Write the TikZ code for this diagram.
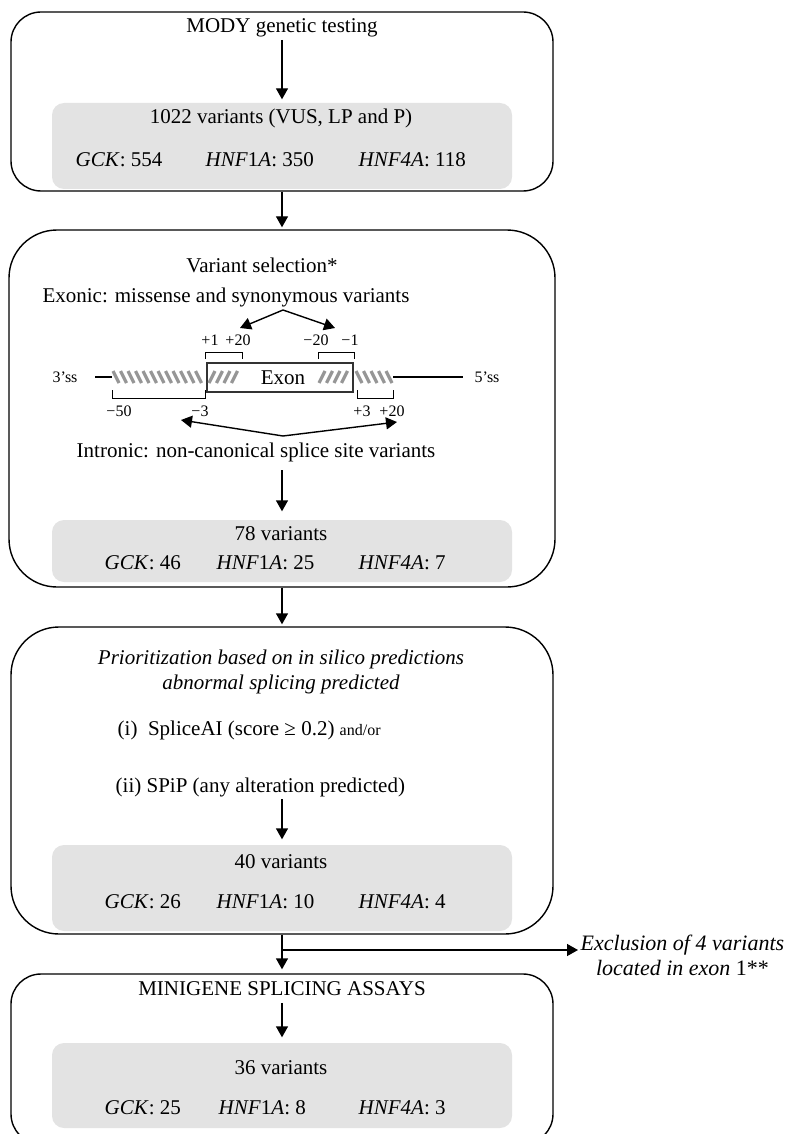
\documentclass[tikz,border=0pt]{standalone}
\usepackage{fontspec}
\setmainfont{Liberation Serif}
\usepackage{xcolor}
\usepackage{tikz}
\usetikzlibrary{arrows.meta, positioning, fit}

\definecolor{boxgrey}{RGB}{227,227,227}
\definecolor{hatchgrey}{RGB}{150,150,150}

\begin{document}
\begin{tikzpicture}[
  x=0.5pt, y=-0.5pt,
  stage/.style={draw=black, line width=0.7pt, inner sep=0pt, rounded corners=15pt},
  greybox/.style={fill=boxgrey, inner sep=0pt, rounded corners=6pt},
  txt/.style={font=\fontsize{10.5}{12.5}\selectfont, inner sep=1pt, align=center},
  gene/.style={txt, anchor=west},
  tick/.style={font=\fontsize{8}{9}\selectfont, inner sep=0.5pt},
  hatch/.style={draw=hatchgrey, line width=1.6pt},
  brack/.style={draw=black, line width=0.5pt},
  >={Triangle[length=5.5pt, width=6pt]},
  every path/.style={line width=0.7pt}
]
\useasboundingbox (0,0) rectangle (785,1134);

% ── Outer stages ──
\node[stage, fit={(11,12) (553,191)}] (stage1) {};
\node[stage, rounded corners=24pt, fit={(9,230) (555,587)}] (stage2) {};
\node[stage, rounded corners=24pt, fit={(11,627) (553,934)}] (stage3) {};
\node[stage, fit={(11,974) (553,1144)}] (stage4) {};

% ── Grey result boxes ──
\node[greybox, fit={(52,103) (512,189)}] (grey1) {};
\node[greybox, fit={(52,520) (512,582)}] (grey2) {};
\node[greybox, fit={(52,845) (512,931)}] (grey3) {};
\node[greybox, fit={(52,1043) (512,1128)}] (grey4) {};

% ── Stage 1 ──
\node[txt] (mody) at (282,28) {MODY genetic testing};
\node[txt] (count1) at (281,118) {1022 variants (VUS, LP and P)};
\node[gene] (gck1) at (73,160) {\textit{GCK}: 554};
\node[gene] (hnfa1) at (203,160) {\textit{HNF}1\textit{A}: 350};
\node[gene] (hnfb1) at (356,160) {\textit{HNF4A}: 118};

% ── Stage 2 ──
\node[txt] (vsel) at (262,265) {Variant selection*};
\node[txt] (exonic) at (226,297) {Exonic: missense and synonymous variants};

% exon sketch
\node[draw=black!80, line width=0.6pt, inner sep=0pt, fit={(207,363) (353,392)}] (exon) {};
\node[txt] (exonlbl) at ([xshift=1.5pt]exon.center) {Exon};
\foreach \hx in {113,120.5,...,199} \draw[hatch] (\hx,371) -- ++(6,12);
\foreach \hx in {356,363.5,...,387} \draw[hatch] (\hx,371) -- ++(6,12);
\foreach \hx in {209,216.5,...,236} \draw[hatch] (\hx,383) -- ++(6,-12);
\foreach \hx in {319,326.5,...,347} \draw[hatch] (\hx,383) -- ++(6,-12);
\draw (95,377) -- (112,377);
\draw (393,377) -- (463,377);
\node[tick] (ss3) at (65,377) {3’ss};
\node[tick] (ss5) at (487,377) {5’ss};

\draw[brack] (205,359) -- (205,352) -- (242,352) -- (242,359);
\draw[brack] (318,359) -- (318,352) -- (354,352) -- (354,359);
\draw[brack] (112,390) -- (112,398) -- (205,398) -- (205,390);
\draw[brack] (357,390) -- (357,398) -- (393,398) -- (393,390);
\node[tick] at (210,340) {+1};
\node[tick] at (238,340) {+20};
\node[tick] at (316,340) {−20};
\node[tick] at (350,340) {−1};
\node[tick] at (119,411) {−50};
\node[tick] at (200,411) {−3};
\node[tick] at (362,411) {+3};
\node[tick] at (392,411) {+20};

\coordinate (exapex) at (283,310);
\coordinate (extipL) at (240,328);
\coordinate (extipR) at (335,328);
\draw[->] (exapex) -- (extipL);
\draw[->] (exapex) -- (extipR);
\coordinate (inapex) at (283,436);
\coordinate (intipL) at (181,420);
\coordinate (intipR) at (397,422);
\draw[->] (inapex) -- (intipL);
\draw[->] (inapex) -- (intipR);

\node[txt] (intronic) at (256,452) {Intronic: non-canonical splice site variants};
\node[txt] (count2) at (281,534) {78 variants};
\node[gene] (gck2) at (102,563) {\textit{GCK}: 46};
\node[gene] (hnfa2) at (214,563) {\textit{HNF}1\textit{A}: 25};
\node[gene] (hnfb2) at (356,563) {\textit{HNF4A}: 7};

% ── Stage 3 ──
\node[txt, font=\fontsize{10.5}{12.5}\selectfont\itshape] (prior) at (281,672)
  {Prioritization based on in silico predictions\\abnormal splicing predicted};
\node[gene] (splai) at (115,730) {(i)\enspace SpliceAI (score ≥ 0.2) {\fontsize{8}{9}\selectfont and/or}};
\node[gene] (spip) at (113,787) {(ii) SPiP (any alteration predicted)};
\node[txt] (count3) at (281,862) {40 variants};
\node[gene] (gck3) at (102,902) {\textit{GCK}: 26};
\node[gene] (hnfa3) at (214,902) {\textit{HNF}1\textit{A}: 10};
\node[gene] (hnfb3) at (356,902) {\textit{HNF4A}: 4};

% ── Stage 4 ──
\node[txt] (minigene) at (282,989) {MINIGENE SPLICING ASSAYS};
\node[txt] (count4) at (281,1068) {36 variants};
\node[gene] (gck4) at (102,1108) {\textit{GCK}: 25};
\node[gene] (hnfa4) at (216,1108) {\textit{HNF}1\textit{A}: 8};
\node[gene] (hnfb4) at (356,1108) {\textit{HNF4A}: 3};

% ── Exclusion branch ──
\node[txt, font=\fontsize{11}{12.5}\selectfont, anchor=west] (excl) at (578,955)
  {\textit{Exclusion of 4 variants}\\\textit{located in exon} 1**};

% ── Flow arrows ──
\draw[->, shorten >=1.5pt] (mody.south -| grey1.north) -- (grey1.north);
\draw[->, shorten >=1pt] (stage1.south) -- (stage2.north);
\draw[->, shorten <=3pt, shorten >=4pt] (intronic.south -| grey2.north) -- (grey2.north);
\draw[->, shorten >=1pt] (stage2.south) -- (stage3.north);
\draw[->, shorten >=2.5pt] (spip.south -| grey3.north) -- (grey3.north);
\draw[->, shorten >=2pt] (stage3.south) -- (stage4.north);
\coordinate (split) at (stage3.south |- 0,950);
\draw[->] (split) -- (excl.west |- split);
\draw[->, shorten <=2pt, shorten >=2.5pt] (minigene.south -| grey4.north) -- (grey4.north);
\end{tikzpicture}
\end{document}
